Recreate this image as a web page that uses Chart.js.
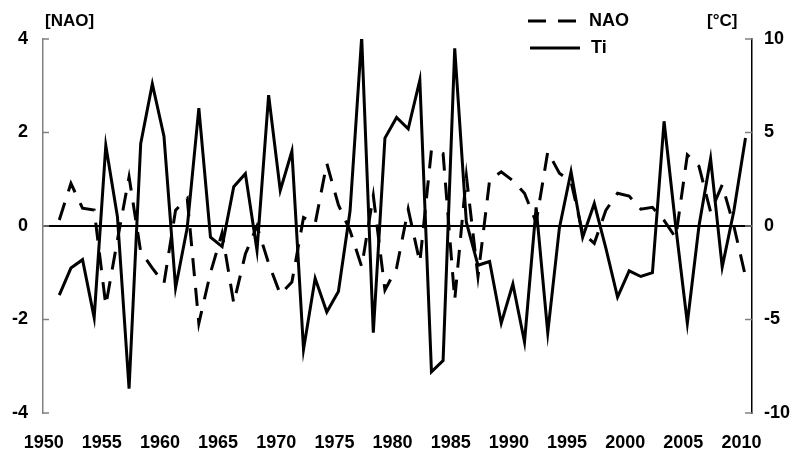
<!DOCTYPE html>
<html>
<head>
<meta charset="utf-8">
<script src="https://cdn.jsdelivr.net/npm/chart.js@4"></script>
<style>
  html, body { margin: 0; padding: 0; background: #fff; }
  #wrap { width: 793px; height: 451px; }
</style>
</head>
<body>
<div id="wrap"><canvas id="chart" width="793" height="451"></canvas></div>
<script>
const years = [];
for (let y = 1951; y <= 2010; y++) years.push(y);

// NAO index (left axis)
const nao = [
  0.13, 0.91, 0.38, 0.34, -1.70, -0.30, 1.05, -0.55, -0.90, -1.23,
  0.34, 0.59, -2.08, -1.00, -0.15, -1.65, -0.60, 0.00, -0.80, -1.46,
  -1.20, 0.18, 0.05, 1.34, 0.45, -0.10, -0.87, 0.65, -1.37, -0.90,
  0.36, -0.78, 1.63, 1.55, -1.58, 1.07, -1.08, 0.98, 1.16, 0.97,
  0.70, 0.08, 1.59, 1.13, 0.95, -0.15, -0.37, 0.34, 0.70, 0.64,
  0.36, 0.40, 0.12, -0.25, 1.52, 1.28, 0.30, 0.88, 0.00, -1.08
];

// Ti in degrees C (right axis)
const ti = [
  -3.7, -2.25, -1.8, -4.9, 4.3, 0.5, -8.7, 4.4, 7.6, 4.8,
  -3.3, -0.1, 6.3, -0.6, -1.1, 2.1, 2.8, -1.3, 7.0, 1.9,
  4.0, -6.6, -2.8, -4.6, -3.5, 0.8, 10.1, -5.7, 4.7, 5.8,
  5.2, 7.8, -7.8, -7.2, 9.5, 0.2, -2.1, -1.9, -5.2, -3.1,
  -6.2, 1.0, -5.7, -0.1, 2.9, -0.6, 1.2, -1.2, -3.8, -2.4,
  -2.7, -2.5, 5.6, 0.0, -5.2, 0.0, 3.6, -2.2, 0.8, 4.7
];

const xTicks = [1950, 1955, 1960, 1965, 1970, 1975, 1980, 1985, 1990, 1995, 2000, 2005, 2010];
const naoTicks = [-4, -2, 0, 2, 4];
const tiTicks = [-10, -5, 0, 5, 10];

const FONT = 'Liberation Sans, Arial, sans-serif';
const DASH = [18, 12];

// short tick marks on the inside of both value axes, plus titles and legend
const extras = {
  id: 'extras',
  afterDraw(chart) {
    const c = chart.ctx;
    const L = chart.scales.y, R = chart.scales.y1;
    c.save();
    c.strokeStyle = '#808080';
    c.lineWidth = 1.5;
    naoTicks.forEach(v => {
      const py = L.getPixelForValue(v);
      c.beginPath(); c.moveTo(L.right, py); c.lineTo(L.right + 6, py); c.stroke();
    });
    tiTicks.forEach(v => {
      const py = R.getPixelForValue(v);
      c.beginPath(); c.moveTo(R.left - 7, py); c.lineTo(R.left, py); c.stroke();
    });

    c.fillStyle = '#000';
    c.font = 'bold 17px ' + FONT;
    c.textBaseline = 'middle';
    c.textAlign = 'left';
    c.fillText('[NAO]', 45, 21);
    c.fillText('[°C]', 707, 21);

    // legend
    c.strokeStyle = '#000';
    c.lineWidth = 3;
    c.setLineDash(DASH);
    c.beginPath(); c.moveTo(528, 21); c.lineTo(578, 21); c.stroke();
    c.setLineDash([]);
    c.beginPath(); c.moveTo(530, 48); c.lineTo(580, 48); c.stroke();
    c.font = 'bold 18px ' + FONT;
    c.fillText('NAO', 589, 21);
    c.fillText('Ti', 591, 48);
    c.restore();
  }
};

new Chart(document.getElementById('chart'), {
  type: 'line',
  data: {
    datasets: [
      {
        label: 'NAO',
        data: years.map((y, i) => ({ x: y, y: nao[i] })),
        yAxisID: 'y',
        borderColor: '#000',
        borderWidth: 3,
        borderDash: DASH,
        pointRadius: 0,
        tension: 0,
        fill: false
      },
      {
        label: 'Ti',
        data: years.map((y, i) => ({ x: y, y: ti[i] })),
        yAxisID: 'y1',
        borderColor: '#000',
        borderWidth: 3,
        pointRadius: 0,
        tension: 0,
        fill: false
      }
    ]
  },
  options: {
    responsive: false,
    animation: false,
    devicePixelRatio: 1,
    layout: { padding: { top: 39, left: 0, right: 0, bottom: 0 } },
    plugins: { legend: { display: false }, tooltip: { enabled: false } },
    scales: {
      x: {
        type: 'linear',
        min: 1949.6,
        max: 2010.56,
        afterBuildTicks: s => { s.ticks = xTicks.map(v => ({ value: v })); },
        afterFit: s => { s.height = 38; },
        grid: { display: false },
        border: { display: false },
        ticks: {
          color: '#000',
          font: { family: FONT, size: 18, weight: 'bold' },
          padding: 11,
          labelOffset: -4,
          maxRotation: 0,
          autoSkip: false,
          callback: v => String(v)
        }
      },
      y: {
        position: 'left',
        min: -4,
        max: 4,
        afterBuildTicks: s => { s.ticks = naoTicks.map(v => ({ value: v })); },
        afterFit: s => { s.width = 43; },
        border: { display: true, color: '#808080', width: 1.5 },
        grid: {
          drawTicks: false,
          lineWidth: 2,
          color: ctx => ctx.tick && ctx.tick.value === 0 ? '#000' : 'rgba(0,0,0,0)'
        },
        ticks: {
          color: '#000',
          font: { family: FONT, size: 18, weight: 'bold' },
          padding: 15
        }
      },
      y1: {
        position: 'right',
        min: -10,
        max: 10,
        afterBuildTicks: s => { s.ticks = tiTicks.map(v => ({ value: v })); },
        afterFit: s => { s.width = 41; },
        border: { display: true, color: '#000', width: 1.5 },
        grid: { display: false, drawTicks: false },
        ticks: {
          color: '#000',
          font: { family: FONT, size: 18, weight: 'bold' },
          padding: 12
        }
      }
    }
  },
  plugins: [extras]
});
</script>
</body>
</html>
